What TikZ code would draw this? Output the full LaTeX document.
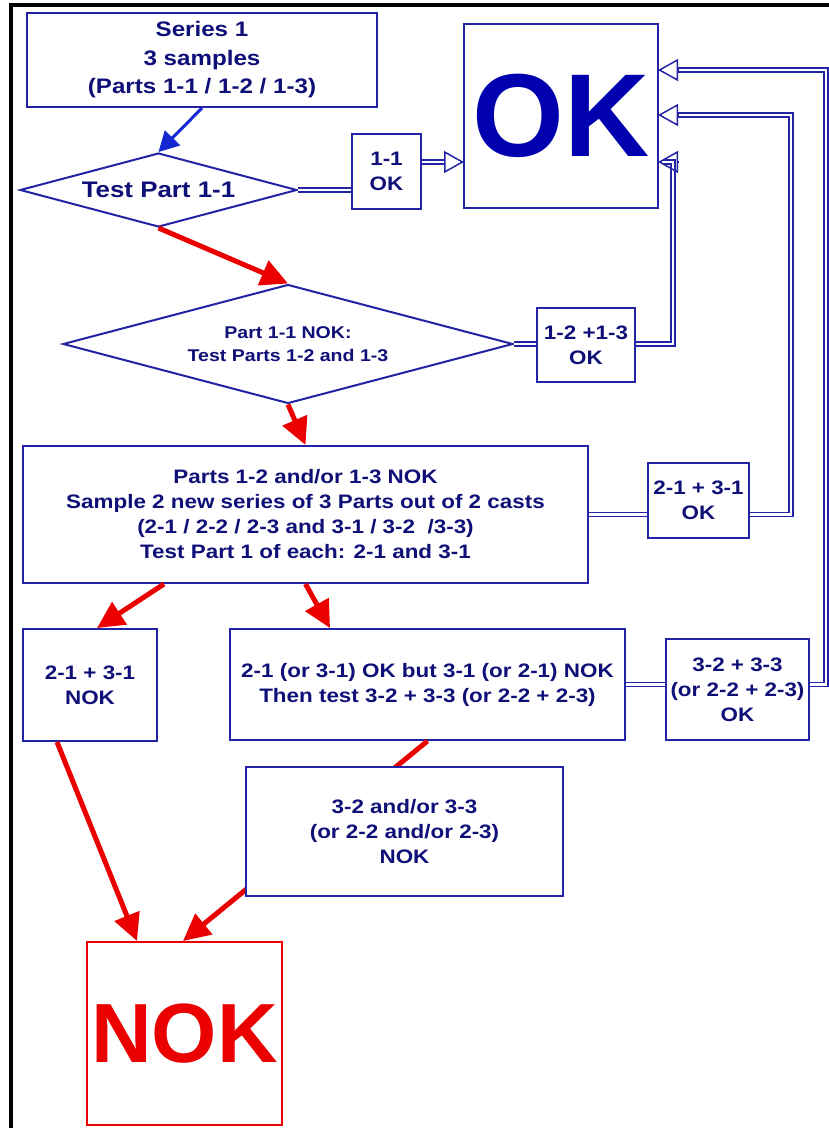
\documentclass[tikz,border=0pt]{standalone}
\usepackage{fontspec}
\newfontfamily\labelfont{Liberation Sans}[FakeStretch=1.15]
\newfontfamily\bigfont{Liberation Sans}
\usetikzlibrary{arrows.meta,shapes.geometric}
\definecolor{boxblue}{RGB}{35,35,165}
\definecolor{textblue}{RGB}{15,15,120}
\definecolor{okblue}{RGB}{0,0,175}
\definecolor{arrowblue}{RGB}{20,40,210}
\definecolor{nokred}{RGB}{235,0,0}
\tikzset{
  box/.style={draw=boxblue, line width=2pt, fill=white, inner sep=0pt, align=center,
    text=textblue, font=\labelfont\bfseries\fontsize{19.5}{25}\selectfont},
  testbox/.style={box, diamond, aspect=3.76},
  dbl/.style={draw=boxblue, line width=1.5pt, double=white, double distance=2.5pt},
  okhead/.style={draw=boxblue, line width=1.5pt, -{Triangle[open,length=20pt,width=22pt]}},
  nokarrow/.style={draw=nokred, line width=5pt, -{Triangle[length=27pt,width=26pt]}},
  startarrow/.style={draw=arrowblue, line width=3pt, -{Triangle[length=20pt,width=21pt]}},
}
\begin{document}
\begin{tikzpicture}[x=1pt,y=-1pt]
    \useasboundingbox (0,0) rectangle (829,1128);
    \draw[line width=4.5pt] (11,1128) -- (11,5) -- (829,5); % Rahmen

    % Kaestchen
    \node[box, minimum width=350pt, minimum height=94pt,
          font=\labelfont\bfseries\fontsize{21}{28.5}\selectfont] (series) at (202,60)
          {Series 1\\3 samples\\(Parts 1-1 / 1-2 / 1-3)};
    \node[testbox, minimum width=277pt, minimum height=74pt,
          font=\labelfont\bfseries\fontsize{22.5}{26}\selectfont] (test1) at (158.5,190) {Test Part 1-1};
    \node[box, minimum width=69pt, minimum height=75pt] (ok11) at (386.5,171.5) {1-1\\OK};
    \node[box, line width=1.5pt, minimum width=194pt, minimum height=184pt, text=okblue,
          font=\bigfont\bfseries\fontsize{118}{118}\selectfont] (ok) at (561,116) {OK};
    \node[testbox, minimum width=450pt, minimum height=119pt,
          font=\labelfont\bfseries\fontsize{17}{23}\selectfont] (test2) at (288,344)
          {Part 1-1 NOK:\\Test Parts 1-2 and 1-3};
    \node[box, minimum width=98pt, minimum height=74pt] (ok1213) at (586,345) {1-2 +1-3\\OK};
    \node[box, minimum width=565pt, minimum height=137pt] (sample) at (305.5,514.5)
          {Parts 1-2 and/or 1-3 NOK\\Sample 2 new series of 3 Parts out of 2 casts\\
           (2-1 / 2-2 / 2-3 and 3-1 / 3-2~ /3-3)\\Test Part 1 of each: 2-1 and 3-1};
    \node[box, minimum width=101pt, minimum height=75pt] (ok2131) at (698.5,500.5) {2-1 + 3-1\\OK};
    \node[box, minimum width=134pt, minimum height=112pt] (nok2131) at (90,685) {2-1 + 3-1\\NOK};
    \node[box, minimum width=395pt, minimum height=111pt] (retest) at (427.5,684.5)
          {2-1 (or 3-1) OK but 3-1 (or 2-1) NOK\\Then test 3-2 + 3-3 (or 2-2 + 2-3)};
    \node[box, minimum width=143pt, minimum height=101pt] (ok3233) at (737.5,689.5)
          {3-2 + 3-3\\(or 2-2 + 2-3)\\OK};
    \node[box, draw=nokred, minimum width=195pt, minimum height=183pt, text=nokred,
          font=\bigfont\bfseries\fontsize{84}{84}\selectfont] (nok) at (184.5,1033.5) {NOK};

    % Eingaenge OK
    \coordinate (tipA) at (658,70);
    \coordinate (tipB) at (658,115);
    \coordinate (tipC) at (658,162);
    \coordinate (tipL) at (464,162);

    % OK-Wege (doppelt)
    \draw[dbl] (test1.east) -- (ok11.west |- test1.east);
    \draw[dbl] (ok11.east |- tipL) -- ([xshift=-20pt]tipL);
    \draw[okhead] ([xshift=-20pt]tipL) -- (tipL);
    \draw[dbl] (test2.east) -- (ok1213.west |- test2.east);
    \draw[dbl] (ok1213.east |- test2.east) -| (673,162) -- ([xshift=5pt]tipC);
    \draw[okhead] ([xshift=20pt]tipC) -- (tipC);
    \draw[dbl] (sample.east) -- (ok2131.west |- sample.east);
    \draw[dbl] (ok2131.east |- sample.east) -| (791,115) -- ([xshift=20pt]tipB);
    \draw[okhead] ([xshift=20pt]tipB) -- (tipB);
    \draw[dbl] (retest.east) -- (ok3233.west |- retest.east);
    \draw[dbl] (ok3233.east |- retest.east) -| (826,70) -- ([xshift=20pt]tipA);
    \draw[okhead] ([xshift=20pt]tipA) -- (tipA);

    % NOK-Wege
    \draw[startarrow] (series.south) -- (test1.north);
    \draw[nokarrow] (test1.south) -- (test2.north);
    \draw[nokarrow] (test2.south) -- (sample.north);
    \draw[nokarrow] ([xshift=-141.5pt]sample.south) -- ([xshift=7pt]nok2131.north);
    \draw[nokarrow] (sample.south) -- ([xshift=-97.5pt]retest.north);
    \draw[nokarrow] ([xshift=-33pt]nok2131.south) -- ([xshift=-47.5pt]nok.north);
    \draw[nokarrow] (retest.south) -- ([xshift=-1.5pt]nok.north);

    % liegt ueber dem Pfeil
    \node[box, minimum width=317pt, minimum height=129pt] (nok3233) at (404.5,831.5)
          {3-2 and/or 3-3\\(or 2-2 and/or 2-3)\\NOK};
\end{tikzpicture}
\end{document}
